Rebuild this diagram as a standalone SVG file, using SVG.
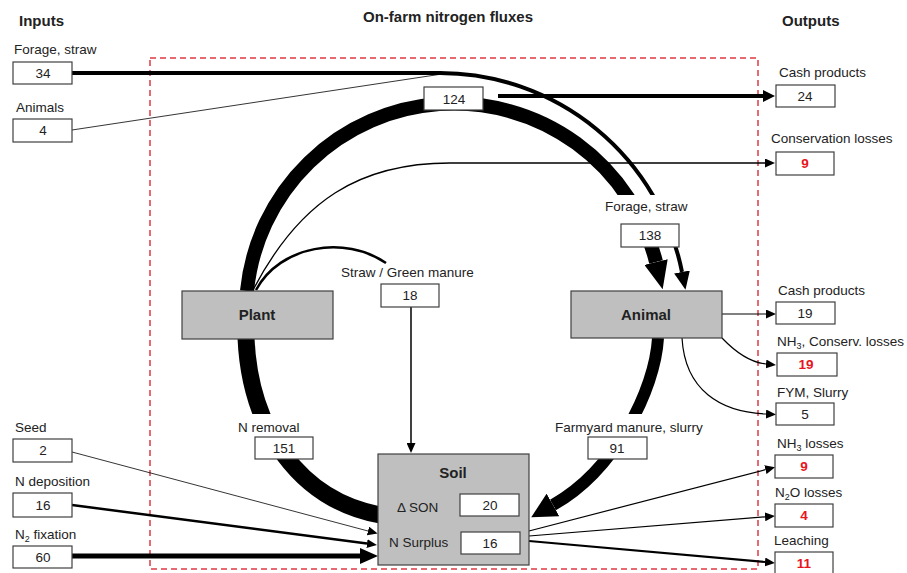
<svg xmlns="http://www.w3.org/2000/svg" width="907" height="573" viewBox="0 0 907 573">
<style>
text{font-family:"Liberation Sans",Arial,sans-serif;fill:#222;}
.lbl{font-size:13.5px;}
.num{font-size:13.5px;text-anchor:middle;}
.red{fill:#e8141c;font-weight:bold;}
.ttl{font-size:15px;font-weight:bold;}
.nodeT{font-size:15px;font-weight:bold;text-anchor:middle;}
.vbox{fill:#fff;stroke:#404040;stroke-width:1.2;}
.gbox{fill:#bfbfbf;stroke:#404040;stroke-width:1.2;}
.bg{fill:#fff;stroke:none;}
.ln{fill:none;stroke:#000;}
</style>
<defs>
<marker id="hL" markerUnits="userSpaceOnUse" markerWidth="28" markerHeight="24" viewBox="0 0 28 24" refX="0" refY="12" orient="auto"><path d="M0,0 L28,12 L0,24 z" fill="#000"/></marker>
<marker id="h91" markerUnits="userSpaceOnUse" markerWidth="25" markerHeight="26" viewBox="0 0 25 26" refX="0" refY="13" orient="auto"><path d="M0,0 L25,13 L0,26 z" fill="#000"/></marker>
<marker id="hM" markerUnits="userSpaceOnUse" markerWidth="18" markerHeight="16" viewBox="0 0 18 16" refX="0" refY="8" orient="auto"><path d="M0,0 L18,8 L0,16 z" fill="#000"/></marker>
<marker id="h24" markerUnits="userSpaceOnUse" markerWidth="12" markerHeight="12" viewBox="0 0 12 12" refX="0" refY="6" orient="auto"><path d="M0,0 L12,6 L0,12 z" fill="#000"/></marker>
<marker id="hS" markerUnits="userSpaceOnUse" markerWidth="10" markerHeight="9" viewBox="0 0 10 9" refX="0" refY="4.5" orient="auto"><path d="M0,0 L10,4.5 L0,9 z" fill="#000"/></marker>
</defs>
<rect x="150" y="58" width="608" height="511" fill="none" stroke="#e03a45" stroke-width="1.5" stroke-dasharray="6,4"/>
<g id="titles">
<text class="ttl" x="19" y="26">Inputs</text>
<text class="ttl" x="448" y="22" text-anchor="middle">On-farm nitrogen fluxes</text>
<text class="ttl" x="782" y="26">Outputs</text>
</g>
<g id="connectors">
<path class="ln" d="M72,73 L440,73 A247,247 0 0 1 682,272" stroke-width="4" marker-end="url(#hM)"/>
<path class="ln" d="M72,130 L442,74" stroke="#444" stroke-width="0.8"/>
<path class="ln" d="M247,291 A208,208 0 0 1 656,262" stroke-width="14" marker-end="url(#hL)"/>
<path class="ln" d="M498,96 L763,96" stroke-width="4" marker-end="url(#h24)"/>
<path class="ln" d="M253,290 C300,200 360,163 450,163 L765,163" stroke-width="1.3" marker-end="url(#hS)"/>
<path class="ln" d="M256,290 C280,245 345,235 386,263" stroke-width="2.5"/>
<path class="ln" d="M411,307 L411,443" stroke-width="1.5" marker-end="url(#hS)"/>
<path class="ln" d="M246,338 C250,430 300,500 380,515" stroke-width="17"/>
<path class="ln" d="M658,338 C655,390 615,470 553,505" stroke-width="12" marker-end="url(#h91)"/>
<path class="ln" d="M722,314 L766,314" stroke="#555" stroke-width="1" marker-end="url(#hS)"/>
<path class="ln" d="M722,338 Q745,362 766,364" stroke-width="1.2" marker-end="url(#hS)"/>
<path class="ln" d="M682,338 C685,390 720,412 766,414" stroke-width="1.2" marker-end="url(#hS)"/>
<path class="ln" d="M72,452 L368,531" stroke="#444" stroke-width="0.8" marker-end="url(#hS)"/>
<path class="ln" d="M72,505 L367,543.6" stroke-width="2.5" marker-end="url(#hS)"/>
<path class="ln" d="M72,556 L360,556" stroke-width="5" marker-end="url(#hM)"/>
<path class="ln" d="M529,531 L765.4,469.7" stroke-width="1.2" marker-end="url(#hS)"/>
<path class="ln" d="M529,536 L765,516.8" stroke-width="1.2" marker-end="url(#hS)"/>
<path class="ln" d="M529,541 L765,562" stroke-width="2.2" marker-end="url(#hS)"/>
</g>
<g id="in-forage"><text class="lbl" x="14" y="54">Forage, straw</text><rect class="vbox" x="13" y="62" width="59" height="22"/><text class="num" x="43" y="78">34</text></g>
<g id="in-animals"><text class="lbl" x="16" y="112">Animals</text><rect class="vbox" x="13" y="119" width="59" height="23"/><text class="num" x="43" y="135">4</text></g>
<g id="in-seed"><text class="lbl" x="15" y="432">Seed</text><rect class="vbox" x="13" y="439" width="59" height="23"/><text class="num" x="43" y="455">2</text></g>
<g id="in-ndep"><text class="lbl" x="15" y="486">N deposition</text><rect class="vbox" x="13" y="493" width="59" height="24"/><text class="num" x="43" y="510">16</text></g>
<g id="in-n2fix"><text class="lbl" x="15" y="539">N<tspan font-size="9" dy="3">2</tspan><tspan dy="-3"> fixation</tspan></text><rect class="vbox" x="13" y="546" width="59" height="22"/><text class="num" x="43" y="562">60</text></g>
<g id="f124"><rect class="vbox" x="424" y="87" width="59" height="23"/><text class="num" x="454" y="104">124</text></g>
<g id="f138"><rect class="bg" x="602" y="195" width="90" height="29"/><text class="lbl" x="605" y="211">Forage, straw</text><rect class="vbox" x="621" y="224" width="58" height="23"/><text class="num" x="650" y="240">138</text></g>
<g id="f18"><text class="lbl" x="341" y="277">Straw / Green manure</text><rect class="vbox" x="381" y="284" width="58" height="23"/><text class="num" x="410" y="300">18</text></g>
<g id="f151"><rect class="bg" x="235" y="414" width="70" height="23"/><text class="lbl" x="238" y="432">N removal</text><rect class="vbox" x="255" y="437" width="58" height="22"/><text class="num" x="284" y="453">151</text></g>
<g id="f91"><rect class="bg" x="552" y="414" width="160" height="23"/><text class="lbl" x="555" y="432">Farmyard manure, slurry</text><rect class="vbox" x="588" y="437" width="59" height="22"/><text class="num" x="617" y="453">91</text></g>
<g id="plant"><rect class="gbox" x="182" y="291" width="151" height="48"/><text class="nodeT" x="257" y="320">Plant</text></g>
<g id="animal"><rect class="gbox" x="571" y="291" width="151" height="47"/><text class="nodeT" x="646" y="320">Animal</text></g>
<g id="soil"><rect class="gbox" x="378" y="454" width="151" height="111"/><text class="nodeT" x="453" y="478">Soil</text>
<text class="lbl" x="397" y="512" font-size="14">Δ SON</text><rect class="vbox" x="460" y="494" width="59" height="22"/><text class="num" x="490" y="510">20</text>
<text class="lbl" x="389" y="547" font-size="14">N Surplus</text><rect class="vbox" x="461" y="532" width="59" height="22"/><text class="num" x="490" y="548">16</text></g>
<g id="out-cash24"><text class="lbl" x="779" y="77">Cash products</text><rect class="vbox" x="776" y="85" width="59" height="22"/><text class="num" x="805" y="101">24</text></g>
<g id="out-cons9"><text class="lbl" x="771" y="143">Conservation losses</text><rect class="vbox" x="776" y="152" width="58" height="23"/><text class="num red" x="805" y="168">9</text></g>
<g id="out-cash19"><text class="lbl" x="778" y="295">Cash products</text><rect class="vbox" x="776" y="302" width="59" height="22"/><text class="num" x="805" y="318">19</text></g>
<g id="out-nh3c"><text class="lbl" x="777" y="346">NH<tspan font-size="9" dy="3">3</tspan><tspan dy="-3">, Conserv. losses</tspan></text><rect class="vbox" x="777" y="353" width="60" height="23"/><text class="num red" x="806" y="369">19</text></g>
<g id="out-fym"><text class="lbl" x="777" y="397">FYM, Slurry</text><rect class="vbox" x="776" y="403" width="58" height="22"/><text class="num" x="805" y="419">5</text></g>
<g id="out-nh3"><text class="lbl" x="777" y="448">NH<tspan font-size="9" dy="3">3</tspan><tspan dy="-3"> losses</tspan></text><rect class="vbox" x="775" y="455" width="58" height="23"/><text class="num red" x="804" y="471">9</text></g>
<g id="out-n2o"><text class="lbl" x="775" y="497">N<tspan font-size="9" dy="3">2</tspan><tspan dy="-3">O losses</tspan></text><rect class="vbox" x="775" y="504" width="58" height="23"/><text class="num red" x="804" y="520">4</text></g>
<g id="out-leach"><text class="lbl" x="774" y="545">Leaching</text><rect class="vbox" x="775" y="552" width="58" height="22"/><text class="num red" x="804" y="568">11</text></g>
</svg>
